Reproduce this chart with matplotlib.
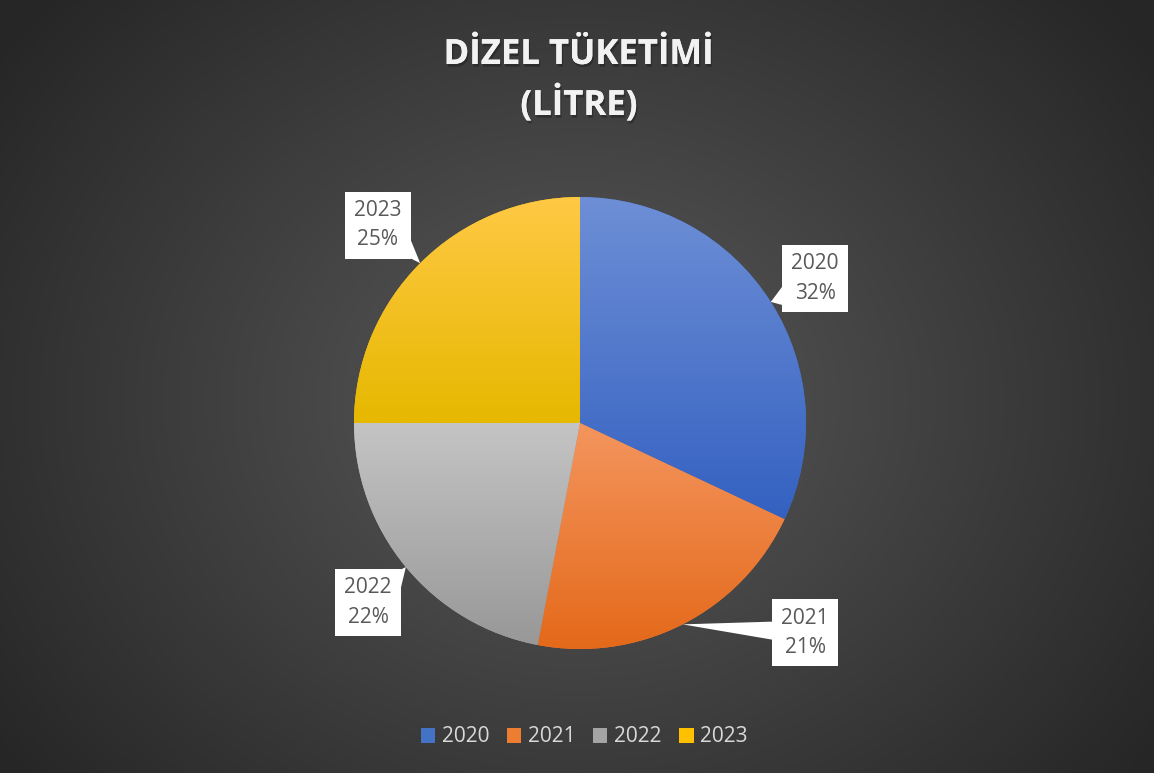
import numpy as np
import matplotlib.pyplot as plt
from matplotlib.colors import to_rgb
from matplotlib.patches import Rectangle, Polygon, Patch
import matplotlib.patheffects as pe

# data
years = ["2020", "2021", "2022", "2023"]
shares = [32, 21, 22, 25]
top_colors = ["#6e8fd6", "#f4955e", "#c4c4c4", "#ffc945"]
bottom_colors = ["#3461c1", "#e4691a", "#989898", "#e6b800"]
mid_colors = ["#4472c4", "#ed7d31", "#a5a5a5", "#ffc000"]
# label box centres, in pie radius units
label_pos = [(1.04, 0.64), (0.996, -0.929), (-0.938, -0.796), (-0.894, 0.876)]

W, H = 1154, 773
CX, CY, R = 580, 423, 226   # pie centre / radius in pixels

fig = plt.figure(figsize=(W / 100, H / 100), dpi=100)
ax = fig.add_axes([0, 0, 1, 1])
xlim = (-CX / R, (W - CX) / R)
ylim = (-(H - CY) / R, CY / R)

# radial background
yy, xx = np.mgrid[0:H, 0:W]
d = np.sqrt(((xx - 577) / (W * 0.62)) ** 2 + ((yy - 400) / (H * 0.78)) ** 2)
t = np.clip(d, 0, 1)[..., None]
bg = np.array(to_rgb("#5a5a5a")) * (1 - t) + np.array(to_rgb("#262626")) * t
ax.imshow(bg, extent=(xlim[0], xlim[1], ylim[0], ylim[1]), origin="upper",
          aspect="auto", zorder=0, interpolation="bilinear")

wedges, _ = ax.pie(shares, startangle=90, counterclock=False, radius=1,
                   colors=mid_colors, wedgeprops=dict(linewidth=0))

# vertical gradient fill per slice
for w, ctop, cbot in zip(wedges, top_colors, bottom_colors):
    w.set_zorder(1)
    bb = w.get_path().get_extents()
    s = np.linspace(0, 1, 200)[:, None, None]
    grad = np.array(to_rgb(ctop)) * (1 - s) + np.array(to_rgb(cbot)) * s
    im = ax.imshow(grad, extent=(bb.x0, bb.x1, bb.y0, bb.y1), origin="upper",
                   aspect="auto", zorder=2, interpolation="bilinear")
    im.set_clip_path(w)

# callout labels
bw, bh = 33 / R, 33.5 / R
half = 9 / R
for w, yr, pct, (lx, ly) in zip(wedges, years, shares, label_pos):
    ang = np.deg2rad((w.theta1 + w.theta2) / 2)
    tx, ty = np.cos(ang), np.sin(ang)
    dx, dy = tx - lx, ty - ly
    if abs(dx) / bw > abs(dy) / bh:
        ex = lx + np.sign(dx) * bw
        ey = ly + dy * bw / abs(dx)
        ey = np.clip(ey, ly - bh + half, ly + bh - half)
        base = [(ex, ey - half), (ex, ey + half)]
    else:
        ey = ly + np.sign(dy) * bh
        ex = lx + dx * bh / abs(dy)
        ex = np.clip(ex, lx - bw + half, lx + bw - half)
        base = [(ex - half, ey), (ex + half, ey)]
    ax.add_patch(Rectangle((lx - bw, ly - bh), 2 * bw, 2 * bh, facecolor="white",
                           edgecolor="none", zorder=4))
    ax.add_patch(Polygon([base[0], (tx, ty), base[1]], closed=True,
                         facecolor="white", edgecolor="none", zorder=4))
    ax.text(lx, ly, f"{yr}\n{pct}%", ha="center", va="center", fontsize=15,
            color="#595959", family="Open Sans", linespacing=1.55, zorder=5)

ax.set_xlim(*xlim)
ax.set_ylim(*ylim)
ax.set_aspect("auto")
ax.axis("off")

shadow = [pe.withSimplePatchShadow(offset=(1, -2), shadow_rgbFace="black", alpha=0.25),
          pe.Normal()]
for line, ypx in [("DİZEL TÜKETİMİ", 55), ("(LİTRE)", 105)]:
    fig.text(579 / W, 1 - ypx / H, line, ha="center", va="center", fontsize=25,
             fontweight="bold", color="#f2f2f2", family="Open Sans",
             path_effects=shadow)

handles = [Patch(facecolor=c, edgecolor="none") for c in mid_colors]
fig.legend(handles, years, loc="center", bbox_to_anchor=(584 / W, 1 - 737 / H),
           ncol=4, frameon=False, labelcolor="#d9d9d9",
           handlelength=0.7, handleheight=0.7, handletextpad=0.3,
           columnspacing=0.85, prop={"family": "Open Sans", "size": 15})

fig.savefig("out.png", dpi=100)
